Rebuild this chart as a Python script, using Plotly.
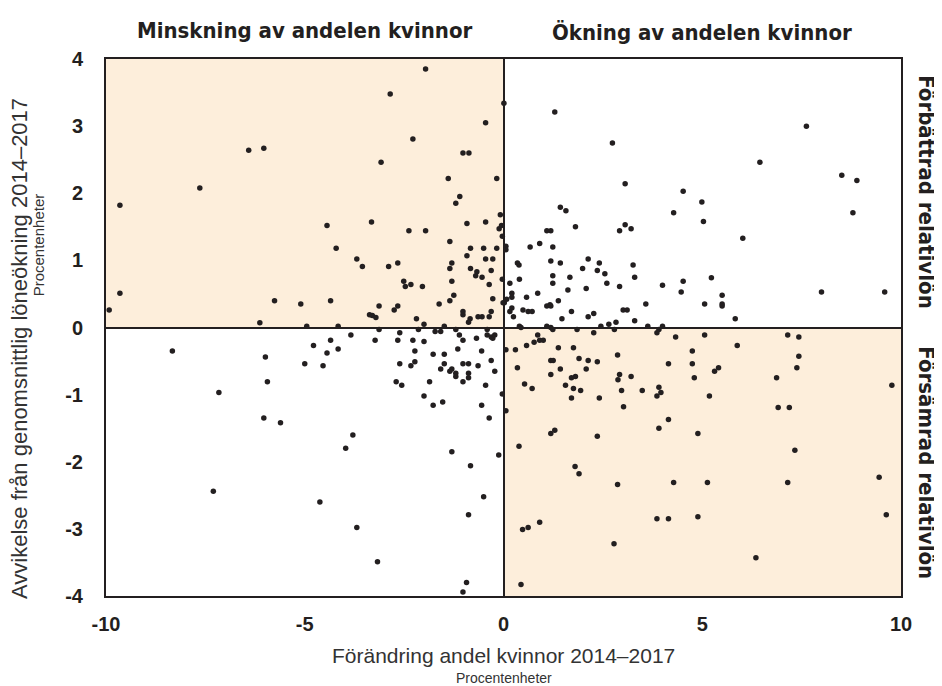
import plotly.graph_objects as go

# Förändring andel kvinnor 2014–2017 (procentenheter)
x_change = [
    -9.65, -7.64, -6.41, -6.03,
    -1.96, -2.85, 0.01, -0.45, -2.28, -1.02, -0.87, -3.08, -1.39, -0.17, -1.10, -1.20, -4.44, -3.32,
    -2.38, -1.96, -0.92, -0.45, -0.08, -0.11, -0.05, -0.03, -1.35,
    1.29, 2.74, 3.06, 4.52, 4.99, 1.43, 1.57, 4.28, 5.03, 1.81, 1.09, 1.19, 2.92, 3.06, 3.21,
    7.62, 6.45, 8.51, 8.89, 8.79, 6.02,
    -9.65, -9.92, -5.76, -5.10, -6.13, -8.33, -5.99, -5.00, -5.94, -7.16, -6.03, -5.61,
    -4.21, -0.83, -0.50, -0.17, -0.92, -3.69, -0.45, -0.27, -3.55, -2.89, -2.66, -1.30, -1.35, -0.83,
    -0.31, -0.67, -0.70, -0.54, -0.03, -1.30, -2.51, -2.47, -2.33, -2.04, -0.36, -1.25, -1.35, -1.62,
    -0.27, -0.01, -4.35, -3.13, -2.66, -2.75, -3.37, -3.30, -3.21, -1.02, -1.02, -0.84, -0.88, -0.64,
    -0.54, -0.36, -0.31, -2.19, -2.00, -1.49, -4.95, -4.16,
    -3.13, -2.14, -1.72, -1.58, -1.20, -2.61, -1.11, -1.02, -0.41, -0.41, -0.31, -0.27, -0.22, -0.68,
    -3.84, -4.35, -4.78, -3.23, -2.66, -2.28, -2.00, -4.44, -4.16, -4.54, -2.23, -1.15, -0.55, -0.31,
    -1.77, -1.49, -2.23, -2.33, -2.61, -1.49, -1.58, -1.02, -0.88, -0.64, -1.35, -1.30, -1.20, -1.20,
    -0.88, -0.88, -1.02, -0.22, -0.45, -1.86, -2.70, -2.56, -2.00, -1.77, -1.53, -0.55, -0.36, -0.03,
    -3.79,
    0.06, 0.06, 0.67, 0.91, 1.24, 1.19, 1.43, 0.35, 0.39, 2.13, 1.99, 2.41, 2.36, 2.55, 3.26, 1.24,
    1.67, 3.30, 0.40, 1.24, 2.60, 0.16, 2.92, 4.00, 4.52, 4.47, 2.08, 1.62, 0.21, 0.21, 0.86, 0.58,
    0.02, 0.08, 1.38, 1.09, 1.17, 1.19, 3.58, 5.06, 0.21, 0.16, 0.25, 0.49, 0.62, 0.72, 1.71, 3.01,
    3.11, 2.13, 2.27, 1.47, 3.30, 0.40, 0.44, 1.09, 1.19, 1.24, 1.85, 2.45, 2.65, 2.83, 2.79, 3.63,
    4.00, 3.91, 3.86, 2.27, 0.86, 0.77, 0.91, 1.00, 4.33, 5.06, 0.58, 0.06, 0.30, 1.38, 1.76, 2.87,
    4.75, 1.19, 1.25, 1.90, 2.13, 2.36, 0.35, 1.43, 2.08, 4.15, 4.75, 1.19, 2.92, 2.88, 3.21, 1.71,
    1.81, 4.80, 0.53, 1.56, 0.72, 1.76, 1.94, 2.97, 3.49, 3.91, 3.96, 3.86, 1.71, 2.41, 3.02, 0.06,
    4.15, 3.91, 1.19, 1.29, 2.36, 4.89,
    5.23, 5.50, 5.50, 5.50, 5.83, 8.00, 9.59, 7.15, 7.43, 5.88, 7.43, 7.38, 5.31, 5.41, 6.87, 9.77,
    5.18, 6.91, 7.19,
    -7.30,
    -3.97, -1.30, -0.12, -0.83, -0.50, -4.62, -0.88, -3.69, -3.17, -0.93, -1.02,
    0.39, 1.80, 1.90, 2.87, 4.28, 3.86, 4.15, 4.89, 0.48, 0.62, 0.91, 2.78, 0.44,
    7.33, 5.13, 7.15, 9.45, 9.63, 6.35,
]

# Avvikelse från genomsnittlig löneökning 2014–2017 (procentenheter)
y_deviation = [
    1.82, 2.08, 2.64, 2.67,
    3.85, 3.48, 3.34, 3.05, 2.81, 2.60, 2.60, 2.46, 2.22, 2.22, 1.95, 1.85, 1.52, 1.57,
    1.44, 1.44, 1.55, 1.57, 1.68, 1.47, 1.52, 1.36, 1.28,
    3.21, 2.75, 2.14, 2.03, 1.87, 1.79, 1.74, 1.71, 1.58, 1.50, 1.44, 1.44, 1.44, 1.53, 1.47,
    3.00, 2.46, 2.27, 2.19, 1.71, 1.33,
    0.51, 0.26, 0.40, 0.35, 0.07, -0.35, -0.44, -0.54, -0.81, -0.97, -1.35, -1.42,
    1.18, 1.18, 1.18, 1.18, 1.07, 1.02, 1.02, 1.02, 0.91, 0.91, 0.96, 0.96, 0.88, 0.88,
    0.85, 0.83, 0.77, 0.75, 0.72, 0.69, 0.69, 0.61, 0.64, 0.61, 0.64, 0.48, 0.40, 0.35,
    0.43, 0.37, 0.40, 0.32, 0.32, 0.26, 0.19, 0.18, 0.15, 0.24, 0.19, 0.13, 0.08, 0.16,
    0.16, 0.16, 0.24, 0.13, 0.05, 0.02, 0.02, 0.02,
    -0.03, -0.03, -0.06, -0.06, -0.03, -0.08, -0.11, -0.19, -0.03, -0.11, -0.14, -0.16, -0.11, -0.16,
    -0.11, -0.19, -0.27, -0.19, -0.19, -0.19, -0.21, -0.38, -0.32, -0.57, -0.35, -0.32, -0.35, -0.49,
    -0.40, -0.40, -0.51, -0.57, -0.54, -0.54, -0.62, -0.54, -0.54, -0.57, -0.65, -0.62, -0.68, -0.73,
    -0.68, -0.75, -0.81, -0.65, -0.86, -0.81, -0.81, -0.86, -1.02, -1.16, -1.11, -1.16, -1.35, -0.99,
    -1.60,
    1.21, 1.16, 1.20, 1.25, 1.20, 0.99, 0.96, 0.96, 0.93, 1.02, 0.88, 0.96, 0.85, 0.80, 0.93, 0.77,
    0.75, 0.75, 0.72, 0.66, 0.66, 0.66, 0.61, 0.63, 0.69, 0.53, 0.58, 0.56, 0.51, 0.45, 0.51, 0.45,
    0.37, 0.42, 0.40, 0.32, 0.34, 0.32, 0.35, 0.35, 0.29, 0.24, 0.16, 0.26, 0.24, 0.24, 0.24, 0.26,
    0.26, 0.16, 0.21, 0.13, 0.10, 0.02, 0.00, 0.02, 0.00, -0.03, -0.03, 0.02, 0.05, 0.08, -0.03, 0.02,
    0.02, -0.03, -0.08, -0.08, -0.11, -0.22, -0.19, -0.19, -0.14, -0.11, -0.27, -0.33, -0.33, -0.30, -0.30, -0.41,
    -0.35, -0.49, -0.49, -0.46, -0.49, -0.51, -0.60, -0.62, -0.62, -0.54, -0.54, -0.70, -0.70, -0.78, -0.73, -0.75,
    -0.73, -0.75, -0.84, -0.86, -0.91, -0.91, -0.94, -0.94, -0.94, -0.89, -0.97, -1.02, -1.05, -1.05, -1.18, -1.24,
    -1.37, -1.50, -1.58, -1.53, -1.62, -1.58,
    0.74, 0.48, 0.35, 0.32, 0.13, 0.53, 0.53, -0.11, -0.14, -0.27, -0.43, -0.60, -0.65, -0.60, -0.75, -0.86,
    -1.02, -1.19, -1.19,
    -2.44,
    -1.80, -1.85, -1.90, -2.06, -2.52, -2.60, -2.79, -2.98, -3.49, -3.80, -3.94,
    -1.77, -2.07, -2.18, -2.34, -2.31, -2.85, -2.85, -2.82, -3.01, -2.98, -2.90, -3.22, -3.83,
    -1.83, -2.31, -2.31, -2.23, -2.79, -3.43,
]

x_ticks = [-10, -5, 0, 5, 10]
y_ticks = [-4, -3, -2, -1, 0, 1, 2, 3, 4]
x_range = [-10, 10]
y_range = [-4, 4]

header_left = "Minskning av andelen kvinnor"
header_right = "Ökning av andelen kvinnor"
side_top = "Förbättrad relativlön"
side_bottom = "Försämrad relativlön"
x_title = "Förändring andel kvinnor 2014–2017"
y_title = "Avvikelse från genomsnittlig löneökning 2014–2017"
unit = "Procentenheter"

INK = "#231f20"
SHADE = "#fdeedb"
NARROW = "Liberation Sans Narrow, DejaVu Sans Condensed, Arial Narrow, sans-serif"
SANS = "Liberation Sans, Arial, Helvetica, sans-serif"
GREY = "#333333"

fig = go.Figure()
fig.add_trace(go.Scatter(
    x=x_change, y=y_deviation, mode="markers",
    marker=dict(color=INK, size=5.5, line=dict(width=0)),
    hoverinfo="x+y", showlegend=False,
))

# shaded quadrants
fig.add_shape(type="rect", xref="x", yref="y", x0=x_range[0], x1=0, y0=0, y1=y_range[1],
              fillcolor=SHADE, line=dict(width=0), layer="below")
fig.add_shape(type="rect", xref="x", yref="y", x0=0, x1=x_range[1], y0=y_range[0], y1=0,
              fillcolor=SHADE, line=dict(width=0), layer="below")

fig.update_xaxes(
    range=x_range, tickvals=x_ticks, ticktext=[str(v) for v in x_ticks],
    showgrid=False, zeroline=True, zerolinecolor=INK, zerolinewidth=2,
    showline=True, mirror=True, linecolor=INK, linewidth=2,
    ticks="outside", ticklen=9, tickcolor="rgba(0,0,0,0)",
    tickfont=dict(family=SANS, size=20, color=INK, weight="bold"),
)
fig.update_yaxes(
    range=y_range, tickvals=y_ticks, ticktext=[str(v) for v in y_ticks],
    showgrid=False, zeroline=True, zerolinecolor=INK, zerolinewidth=2,
    showline=True, mirror=True, linecolor=INK, linewidth=2,
    ticks="outside", ticklen=17, tickcolor="rgba(0,0,0,0)",
    tickfont=dict(family=SANS, size=20, color=INK, weight="bold"),
)

hfont = dict(family=NARROW, size=22, color=INK, weight="bold")
ann = [
    dict(text=header_left, x=0.25, y=1.0, yshift=29, font=hfont),
    dict(text=header_right, x=0.75, y=1.0, yshift=27, font=hfont),
    dict(text=side_top, x=1.0, y=0.752, xshift=26, textangle=90, font=hfont),
    dict(text=side_bottom, x=1.0, y=0.249, xshift=26, textangle=90, font=hfont),
    dict(text=x_title, x=0.5, y=0.0, yshift=-59, font=dict(family=SANS, size=21, color=GREY)),
    dict(text=unit, x=0.5, y=0.0, yshift=-82, font=dict(family=SANS, size=14, color=GREY)),
    dict(text=y_title, x=0.0, y=0.46, xshift=-86, textangle=-90,
         font=dict(family=SANS, size=22, color=GREY)),
    dict(text=unit, x=0.0, y=0.653, xshift=-68, textangle=-90,
         font=dict(family=SANS, size=15, color=GREY)),
]
for a in ann:
    a.update(xref="paper", yref="paper", xanchor="center", yanchor="middle", showarrow=False)

# page body adds an 8px offset; margins compensate so the plot frame lands at
# x 106..901, y 59..596 in the screenshot
fig.update_layout(
    width=942, height=686,
    margin=dict(l=98, r=49, t=51, b=98),
    paper_bgcolor="white", plot_bgcolor="white",
    annotations=ann,
)

fig.write_html("out.html")
